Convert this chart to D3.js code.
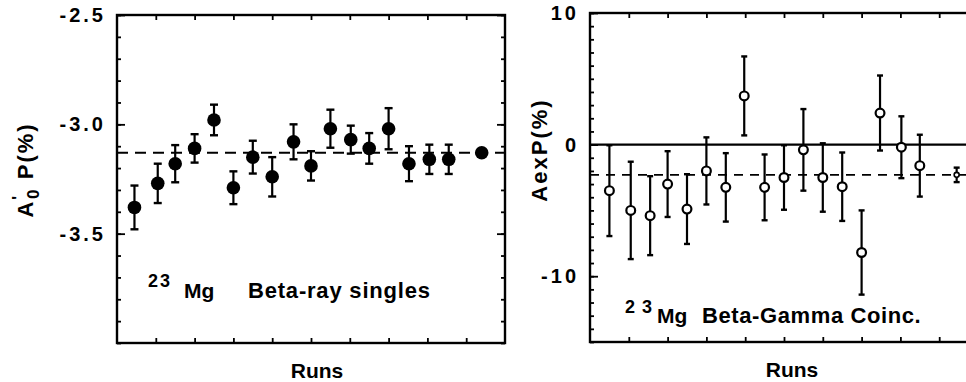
<!DOCTYPE html>
<html>
<head>
<meta charset="utf-8">
<script src="https://cdn.jsdelivr.net/npm/d3@7"></script>
<style>
  body { margin: 0; background: #fff; }
  text { font-family: "Liberation Sans", Arial, Helvetica, sans-serif; fill: #000; font-weight: bold; }
</style>
</head>
<body>
<svg id="chart" width="966" height="382"></svg>
<script>
// 23Mg beta-ray singles: run position, A'0 P (%), error
var singlesRuns = [0.9, 2.1, 3, 4, 5, 6, 7, 8, 9.1, 10, 11, 12.05, 13, 14, 15.05, 16.1, 17.1];
var singlesVals = [-3.38, -3.27, -3.18, -3.11, -2.98, -3.29, -3.15, -3.24, -3.08, -3.19, -3.02, -3.07, -3.11, -3.02, -3.18, -3.16, -3.16];
var singlesErr  = [0.10, 0.09, 0.085, 0.065, 0.07, 0.075, 0.075, 0.09, 0.08, 0.067, 0.087, 0.064, 0.07, 0.094, 0.08, 0.067, 0.067];
var singlesMean = [18.8, -3.13, 0.012];
var singlesLabels = [-2.5, -3.0, -3.5];

// 23Mg beta-gamma coincidences: run position, AexP (%), error
var coincRuns = [1, 2.1, 3.1, 4, 5, 6, 7, 7.95, 9, 10, 11, 12, 13, 14, 14.95, 16.05, 17];
var coincVals = [-3.5, -5.0, -5.4, -3.0, -4.9, -2.0, -3.25, 3.7, -3.25, -2.5, -0.4, -2.5, -3.2, -8.2, 2.4, -0.2, -1.6];
var coincErr  = [3.45, 3.7, 3.0, 2.5, 2.65, 2.55, 2.6, 3.0, 2.5, 2.45, 3.1, 2.6, 2.6, 3.2, 2.85, 2.35, 2.35];
var coincMean = [18.9, -2.3, 0.55];
var coincLabels = [10, 0, -10];

var runTicks = [2, 4, 6, 8, 10, 12, 14, 16, 18];

var svg = d3.select("#chart");

function hyphen(v, fmt) {
    return d3.format(fmt)(v).replace("\u2212", "-");
}

// draws one framed panel, returns scales
function panel(box, yDomain, minorStep, majorVals, fmt) {
    var x = d3.scaleLinear().domain([0, 20]).range([box.left, box.right]);
    var y = d3.scaleLinear().domain(yDomain).range([box.bottom, box.top]);
    var g = svg.append("g");

    var minor = d3.range(yDomain[0], yDomain[1] + minorStep / 2, minorStep);

    // left axis: minor then major ticks, all pointing inwards
    g.append("g").attr("transform", "translate(" + box.left + ",0)")
        .call(d3.axisLeft(y).tickValues(minor).tickSize(-4).tickFormat(""));
    g.append("g").attr("transform", "translate(" + box.left + ",0)")
        .call(d3.axisLeft(y).tickValues(majorVals).tickSize(-8).tickPadding(11)
            .tickFormat(function(d) { return hyphen(d, fmt); }))
        .selectAll("text")
        .style("font-size", "20px")
        .style("letter-spacing", "3px");

    // right axis of the frame
    if (box.right < 966) {
        g.append("g").attr("transform", "translate(" + box.right + ",0)")
            .call(d3.axisRight(y).tickValues(minor).tickSize(-4).tickFormat(""));
        g.append("g").attr("transform", "translate(" + box.right + ",0)")
            .call(d3.axisRight(y).tickValues(majorVals).tickSize(-8).tickFormat(""));
    }

    // top and bottom run ticks
    g.append("g").attr("transform", "translate(0," + box.bottom + ")")
        .call(d3.axisBottom(x).tickValues(runTicks).tickSize(-5).tickFormat(""));
    g.append("g").attr("transform", "translate(0," + box.top + ")")
        .call(d3.axisTop(x).tickValues(runTicks).tickSize(-5).tickFormat(""));

    g.selectAll(".domain").remove();
    g.selectAll(".tick line").attr("stroke", "#000").attr("stroke-width", 1.8);

    g.append("rect")
        .attr("x", box.left).attr("y", box.top)
        .attr("width", box.right - box.left).attr("height", box.bottom - box.top)
        .attr("fill", "none").attr("stroke", "#000").attr("stroke-width", 2.4);

    return { x: x, y: y, g: g };
}

function errorBars(p, runs, vals, errs, cap) {
    var bars = p.g.append("g").selectAll("g").data(runs).join("g");
    bars.append("line")
        .attr("x1", function(d) { return p.x(d); }).attr("x2", function(d) { return p.x(d); })
        .attr("y1", function(d, i) { return p.y(vals[i] - errs[i]); })
        .attr("y2", function(d, i) { return p.y(vals[i] + errs[i]); })
        .attr("stroke", "#000").attr("stroke-width", 2.2);
    [-1, 1].forEach(function(s) {
        bars.append("line")
            .attr("x1", function(d) { return p.x(d) - cap; })
            .attr("x2", function(d) { return p.x(d) + cap; })
            .attr("y1", function(d, i) { return p.y(vals[i] + s * errs[i]); })
            .attr("y2", function(d, i) { return p.y(vals[i] + s * errs[i]); })
            .attr("stroke", "#000").attr("stroke-width", 2.4);
    });
}

// ---- left panel: beta-ray singles
var left = panel({ left: 117, right: 505, top: 15, bottom: 343 }, [-4.0, -2.5], 0.1, singlesLabels, ".1f");

left.g.append("line")
    .attr("x1", left.x(0)).attr("x2", left.x(20))
    .attr("y1", left.y(singlesMean[1])).attr("y2", left.y(singlesMean[1]))
    .attr("stroke", "#000").attr("stroke-width", 2.2).attr("stroke-dasharray", "11,7");

errorBars(left, singlesRuns, singlesVals, singlesErr, 4);

left.g.append("g").selectAll("circle").data(singlesRuns).join("circle")
    .attr("cx", function(d) { return left.x(d); })
    .attr("cy", function(d, i) { return left.y(singlesVals[i]); })
    .attr("r", 6.8).attr("fill", "#000");

left.g.append("circle")
    .attr("cx", left.x(singlesMean[0])).attr("cy", left.y(singlesMean[1]))
    .attr("r", 6.8).attr("fill", "#000");

// ---- right panel: beta-gamma coincidences (frame runs off the page)
var right = panel({ left: 590, right: 978, top: 13, bottom: 342 }, [-15, 10], 1, coincLabels, "d");

right.g.append("line")
    .attr("x1", right.x(0)).attr("x2", right.x(20))
    .attr("y1", right.y(0)).attr("y2", right.y(0))
    .attr("stroke", "#000").attr("stroke-width", 2.2);

right.g.append("line")
    .attr("x1", right.x(0)).attr("x2", right.x(20))
    .attr("y1", right.y(coincMean[1])).attr("y2", right.y(coincMean[1]))
    .attr("stroke", "#000").attr("stroke-width", 1.8).attr("stroke-dasharray", "9,7");

errorBars(right, coincRuns, coincVals, coincErr, 3);
errorBars(right, [coincMean[0]], [coincMean[1]], [coincMean[2]], 3);

right.g.append("g").selectAll("circle").data(coincRuns).join("circle")
    .attr("cx", function(d) { return right.x(d); })
    .attr("cy", function(d, i) { return right.y(coincVals[i]); })
    .attr("r", 4.4).attr("fill", "#fff").attr("stroke", "#000").attr("stroke-width", 2.2);

right.g.append("circle")
    .attr("cx", right.x(coincMean[0])).attr("cy", right.y(coincMean[1]))
    .attr("r", 2.5).attr("fill", "#fff").attr("stroke", "#000").attr("stroke-width", 1.6);

// ---- texts
svg.append("text").attr("x", 317).attr("y", 378).attr("text-anchor", "middle")
    .style("font-size", "21px").text("Runs");
svg.append("text").attr("x", 792).attr("y", 377).attr("text-anchor", "middle")
    .style("font-size", "21px").text("Runs");

var yl = svg.append("text").attr("transform", "translate(33,170) rotate(-90)")
    .attr("text-anchor", "middle").style("font-size", "22px").style("letter-spacing", "2px");
yl.append("tspan").text("A");
yl.append("tspan").attr("dy", -9).style("font-size", "16px").text("'");
yl.append("tspan").attr("dx", -5).attr("dy", 15).style("font-size", "17px").text("0");
yl.append("tspan").attr("dy", -6).text(" P(%)");

svg.append("text").attr("transform", "translate(547,150) rotate(-90)")
    .attr("text-anchor", "middle").style("font-size", "22px").style("letter-spacing", "2px")
    .text("AexP(%)");

var t1 = svg.append("text").attr("y", 298);
t1.append("tspan").attr("x", 148).attr("dy", -11).style("font-size", "18px").style("letter-spacing", "2px").text("23");
t1.append("tspan").attr("x", 184).attr("dy", 11).style("font-size", "21px").text("Mg");
t1.append("tspan").attr("x", 248).style("font-size", "22px").style("letter-spacing", "0.8px").text("Beta-ray singles");

var t2 = svg.append("text").attr("y", 323);
t2.append("tspan").attr("x", 625).attr("dy", -10).style("font-size", "18px").style("letter-spacing", "1px").text("2 3");
t2.append("tspan").attr("x", 657).attr("dy", 10).style("font-size", "21px").text("Mg");
t2.append("tspan").attr("x", 702).style("font-size", "22px").style("letter-spacing", "0.6px").text("Beta-Gamma Coinc.");
</script>
</body>
</html>
